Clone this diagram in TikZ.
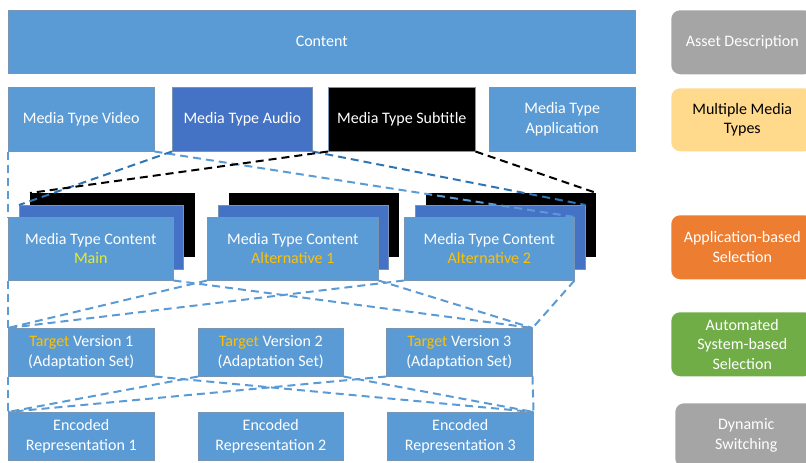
\documentclass[tikz,border=0pt]{standalone}
\usepackage{fontspec}
\setmainfont{Carlito}
\definecolor{mtblue}{RGB}{91,155,213}
\definecolor{mtdark}{RGB}{68,114,196}
\definecolor{mtedge}{RGB}{120,150,180}
\definecolor{linkblue}{RGB}{46,117,182}
\definecolor{mtgold}{RGB}{255,192,0}
\definecolor{mtyellow}{RGB}{235,235,30}
\definecolor{taggray}{RGB}{165,165,165}
\definecolor{taggold}{RGB}{255,217,140}
\definecolor{tagorange}{RGB}{237,125,49}
\definecolor{taggreen}{RGB}{112,173,71}
\begin{document}
\begin{tikzpicture}[x=1pt, y=-1pt, font=\fontsize{16}{19.5}\selectfont,
    box/.style={anchor=north west, draw=mtedge, fill=mtblue, text=white, align=center,
        inner sep=0pt, line width=.5pt},
    tag/.style={box, draw=none, rounded corners=9pt},
    dashlink/.style={dash pattern=on 8pt off 5pt, line width=2pt, mtblue}]
        \useasboundingbox (0,0) rectangle (806,463);
        % top rows
        \node[box, minimum width=627pt, minimum height=63pt] (content) at (8,10) {Content};
        \node[box, minimum width=146pt, minimum height=64pt] (video) at (8,87) {Media Type Video};
        \node[box, fill=mtdark, minimum width=140pt, minimum height=64pt] (audio) at (172,87) {Media Type Audio};
        \node[box, fill=black, minimum width=147pt, minimum height=64pt] (subtitle) at (328,87) {Media Type Subtitle};
        \node[box, minimum width=146pt, minimum height=64pt] (application) at (489,87) {Media Type\\Application};
        % content stacks
        \node[box, fill=black, draw=none, minimum width=165pt, minimum height=64pt] (s1back) at (30,193) {};
        \node[box, fill=mtdark, minimum width=164pt, minimum height=64pt] (s1mid) at (19,205) {};
        \node[box, minimum width=165pt, minimum height=63pt] (s1) at (8,217) {Media Type Content\\\textcolor{mtyellow}{Main}};
        \node[box, fill=black, draw=none, minimum width=170pt, minimum height=64pt] (s2back) at (229,193) {};
        \node[box, fill=mtdark, minimum width=170pt, minimum height=64pt] (s2mid) at (218,205) {};
        \node[box, minimum width=171pt, minimum height=63pt] (s2) at (207,217) {Media Type Content\\\textcolor{mtgold}{Alternative 1}};
        \node[box, fill=black, draw=none, minimum width=170pt, minimum height=64pt] (s3back) at (426,193) {};
        \node[box, fill=mtdark, minimum width=170pt, minimum height=64pt] (s3mid) at (415,205) {};
        \node[box, minimum width=170pt, minimum height=63pt] (s3) at (404,217) {Media Type Content\\\textcolor{mtgold}{Alternative 2}};
        % target versions
        \node[box, minimum width=146pt, minimum height=48pt] (t1) at (8,328) {\textcolor{mtgold}{Target} Version 1\\(Adaptation Set)};
        \node[box, minimum width=145pt, minimum height=48pt] (t2) at (198,328) {\textcolor{mtgold}{Target} Version 2\\(Adaptation Set)};
        \node[box, minimum width=146pt, minimum height=48pt] (t3) at (386,328) {\textcolor{mtgold}{Target} Version 3\\(Adaptation Set)};
        % representations
        \node[box, minimum width=146pt, minimum height=48pt] (e1) at (8,412) {Encoded\\Representation 1};
        \node[box, minimum width=145pt, minimum height=48pt] (e2) at (198,412) {Encoded\\Representation 2};
        \node[box, minimum width=146pt, minimum height=48pt] (e3) at (387,412) {Encoded\\Representation 3};
        % right column
        \node[tag, fill=taggray, minimum width=142pt, minimum height=64pt] (asset) at (671,10) {Asset Description};
        \node[tag, fill=taggold, text=black, minimum width=142pt, minimum height=63pt] (multiple) at (671,88) {Multiple Media\\Types};
        \node[tag, fill=tagorange, minimum width=142pt, minimum height=64pt] (appsel) at (671,215) {Application-based\\Selection};
        \node[tag, fill=taggreen, minimum width=142pt, minimum height=64pt] (autosel) at (671,312) {Automated\\System-based\\Selection};
        \node[tag, fill=taggray, minimum width=142pt, minimum height=64pt] (switching) at (675,403) {Dynamic\\Switching};
        % media types to content
        \draw[dashlink] (video.south west) -- (s1.north west);
        \draw[dashlink] (video.south east) -- (s3.north east);
        \draw[dashlink, linkblue] (audio.south west) -- (s1mid.north west);
        \draw[dashlink, linkblue] (audio.south east) -- (s3mid.north east);
        \draw[dashlink, black] (subtitle.south west) -- (s1back.north west);
        \draw[dashlink, black] (subtitle.south east) -- (s3back.north east);
        % content to target versions
        \draw[dashlink] (s1.south west) -- (t1.north west);
        \draw[dashlink] (s1.south east) -- (t3.north east);
        \draw[dashlink] (s2.south west) -- (t1.north west);
        \draw[dashlink] (s2.south east) -- (t3.north east);
        \draw[dashlink] (s3.south west) -- (t1.north west);
        \draw[dashlink] (s3.south east) -- (t3.north east);
        % target versions to representations
        \draw[dashlink] (t1.south west) -- (e1.north west);
        \draw[dashlink] (t1.south east) -- (e3.north east);
        \draw[dashlink] (t2.south west) -- (e1.north west);
        \draw[dashlink] (t2.south east) -- (e3.north east);
        \draw[dashlink] (t3.south west) -- (e1.north west);
        \draw[dashlink] (t3.south east) -- (e3.north east);
\end{tikzpicture}
\end{document}
